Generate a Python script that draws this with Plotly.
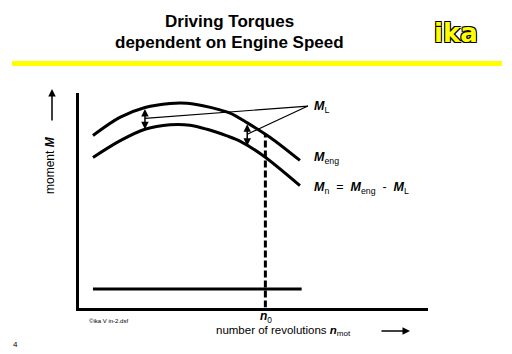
import numpy as np
import plotly.graph_objects as go

# ---- data (arbitrary units: engine speed n 0..100, moment M 0..100) ----
n_eng = [4.0, 11.7, 18.9, 26.1, 30.9, 35.5, 40.4, 43.3, 48.1, 54.7, 63.3]
m_eng = [80.0, 88.4, 93.0, 94.9, 95.0, 93.8, 91.9, 90.4, 86.0, 79.2, 68.4]

n_net = [4.0, 11.7, 18.9, 26.1, 31.8, 36.7, 42.4, 46.1, 52.7, 63.3]
m_net = [69.8, 77.5, 82.9, 85.0, 84.8, 82.9, 79.8, 77.4, 70.7, 56.7]

n_idle = [4.0, 63.8]
m_idle = [8.6, 8.6]

n0 = 53.4
n_loss_arrows = [18.9, 48.2]
label_anchor = (65.6, 93.7)

W, H = 512, 354
FONT = "Liberation Sans, Arial, Helvetica, sans-serif"


def px(x):
    return x / W


def py(y):
    return 1 - y / H


def mE(n):
    return float(np.interp(n, n_eng, m_eng))


def mN(n):
    return float(np.interp(n, n_net, m_net))


fig = go.Figure()
fig.add_trace(go.Scatter(x=n_eng, y=m_eng, mode="lines",
                         line=dict(color="black", width=3, shape="spline", smoothing=0.9),
                         hoverinfo="skip"))
fig.add_trace(go.Scatter(x=n_net, y=m_net, mode="lines",
                         line=dict(color="black", width=3, shape="spline", smoothing=0.9),
                         hoverinfo="skip"))
fig.add_trace(go.Scatter(x=n_idle, y=m_idle, mode="lines", line=dict(color="black", width=3),
                         hoverinfo="skip"))
fig.add_trace(go.Scatter(x=[n0, n0], y=[0, mE(n0)], mode="lines",
                         line=dict(color="black", width=3, dash="7px,3px"), hoverinfo="skip"))
# leader lines from M_L label to the loss arrows
for n in n_loss_arrows:
    fig.add_trace(go.Scatter(x=[label_anchor[0], n], y=[label_anchor[1], (mE(n) + mN(n)) / 2],
                             mode="lines", line=dict(color="black", width=1.2), hoverinfo="skip"))

annotations = []
# double-headed loss arrows
for n in n_loss_arrows:
    annotations.append(dict(x=n, y=mN(n), ax=n, ay=mE(n), xref="x", yref="y", axref="x", ayref="y",
                            text="", showarrow=True, arrowhead=2, arrowsize=1, arrowwidth=1.5,
                            arrowside="end+start", arrowcolor="black"))


def txt(x, y, text, size, xanchor="center", family=FONT, **kw):
    d = dict(x=px(x), y=py(y), xref="paper", yref="paper", xanchor=xanchor, yanchor="middle",
             showarrow=False, text=text, font=dict(family=family, size=size, color="black"))
    d.update(kw)
    return d


sub = "<b><i>M</i></b>"
annotations += [
    dict(x=66.8, y=93.2, xref="x", yref="y", xanchor="left", yanchor="middle", showarrow=False,
         text=sub + "<sub>L</sub>", font=dict(family=FONT, size=12.5, color="black")),
    dict(x=66.8, y=69.7, xref="x", yref="y", xanchor="left", yanchor="middle", showarrow=False,
         text=sub + "<sub>eng</sub>", font=dict(family=FONT, size=12.5, color="black")),
    dict(x=66.8, y=55.8, xref="x", yref="y", xanchor="left", yanchor="middle", showarrow=False,
         text=sub + "<sub>n</sub>  =  " + sub + "<sub>eng</sub>  -  " + sub + "<sub>L</sub>",
         font=dict(family=FONT, size=12.5, color="black")),
    txt(229, 22, "<b>Driving Torques</b>", 17),
    txt(229, 42, "<b>dependent on Engine Speed</b>", 17),
    txt(50, 165, "moment <b><i>M</i></b>", 12, textangle=-90),
    txt(214, 331, "number of revolutions <b><i>n</i></b><sub>mot</sub>", 11.5, xanchor="left"),
    txt(266, 317, "<b><i>n</i></b><sub>0</sub>", 12),
    txt(87, 321, "\u00a9ika V in-2.dsf", 6, xanchor="left"),
    txt(15, 344, "4", 8),
]
logo = txt(456, 33, "<b>ika</b>", 26, family="DejaVu Sans, sans-serif")
logo["font"]["color"] = "#ffff00"
logo["font"]["shadow"] = "-1px -1px 0 #000, 1px -1px 0 #000, -1px 1px 0 #000, 1px 1px 0 #000"
annotations.append(logo)

# axis direction arrows
annotations += [
    dict(x=px(52), y=py(89), ax=0, ay=33, xref="paper", yref="paper", text="", showarrow=True,
         arrowhead=2, arrowsize=1, arrowwidth=1.5, arrowcolor="black"),
    dict(x=px(410), y=py(331), ax=-30, ay=0, xref="paper", yref="paper", text="", showarrow=True,
         arrowhead=2, arrowsize=1, arrowwidth=1.5, arrowcolor="black"),
]

shapes = [dict(type="line", xref="paper", yref="paper", x0=px(12), x1=px(502), y0=py(63.5), y1=py(63.5),
               line=dict(color="#ffff00", width=5))]

fig.update_layout(
    width=W, height=H, autosize=False,
    margin=dict(l=0, r=0, t=0, b=0),
    paper_bgcolor="white", plot_bgcolor="white",
    showlegend=False,
    xaxis=dict(domain=[px(79), px(428)], range=[0, 100], showgrid=False, zeroline=False,
               showticklabels=False, ticks="", showline=True, linecolor="black", linewidth=2.5),
    yaxis=dict(domain=[py(307.5), py(92.5)], range=[0, 100], showgrid=False, zeroline=False,
               showticklabels=False, ticks="", showline=True, linecolor="black", linewidth=2.5),
    annotations=annotations,
    shapes=shapes,
)

fig.write_html("out.html")
